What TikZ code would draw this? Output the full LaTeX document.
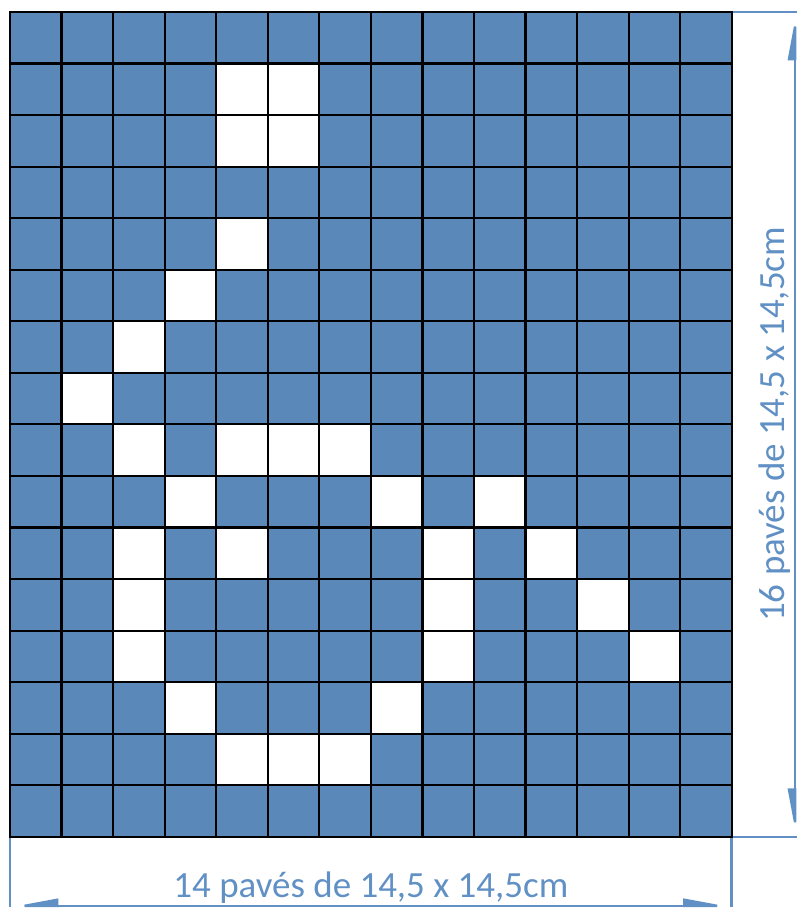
\documentclass[tikz,border=0pt]{standalone}
\usepackage{fontspec}
\setmainfont{Carlito}
\usetikzlibrary{arrows.meta}
\definecolor{pvblue}{HTML}{5A88B8}
\definecolor{pvline}{HTML}{6190C4}
\tikzset{
  pave/.style   ={draw=black, line width=1.2pt, minimum size=1cm, inner sep=0pt, outer sep=0pt},
  bleu/.style   ={pave, fill=pvblue},
  blanc/.style  ={pave, fill=white},
  cote/.style   ={draw=pvline, line width=1.4pt},
  fleche/.style ={cote, {Triangle[right,length=8mm,width=2.8mm]}-{Triangle[left,length=8mm,width=2.8mm]}},
  legende/.style={text=pvline, font=\fontsize{20.4}{24}\selectfont, inner sep=0pt},
}
\newcommand{\pavage}[2]{%
  \foreach \cc in {0,...,#1}\foreach \rr in {0,...,#2}{%
     \node[bleu] (p-\cc-\rr) at (\cc+0.5,15.5-\rr) {};}}

\begin{document}
\begin{tikzpicture}
      \useasboundingbox (-0.194,-1.40) rectangle (15.266,16.233);
      % lignes de rappel
      \draw[cote] (0,0) -- (0,-1.37);
      \draw[cote] (14,0) -- (14,-1.37);
      \draw[cote] (14,16) -- (15.27,16);
      \draw[cote] (14,0) -- (15.27,0);
      \pavage{13}{15}
      % paves blancs
      \foreach \c/\r in {4/1,5/1,4/2,5/2,4/4,3/5,2/6,1/7,2/8,4/8,5/8,6/8,
                         3/9,7/9,9/9,2/10,4/10,8/10,10/10,2/11,8/11,11/11,
                         2/12,8/12,12/12,3/13,7/13,4/14,5/14,6/14}{
          \node[blanc] (w-\c-\r) at (p-\c-\r) {};}
      % cotes
      \coordinate (bas-g) at (0,-1.34);
      \coordinate (bas-d) at (14,-1.34);
      \coordinate (dr-b) at (15.23,0);
      \coordinate (dr-h) at (15.23,16);
      \draw[fleche] (bas-g) -- (bas-d);
      \draw[fleche] (dr-b) -- (dr-h);
      \node[legende, anchor=base] (t-bas) at (7,-1.17) {14 pavés de 14,5 x 14,5cm};
      \node[legende, rotate=90, anchor=base] (t-dr) at (15.03,8) {16 pavés de 14,5 x 14,5cm};
\end{tikzpicture}
\end{document}
